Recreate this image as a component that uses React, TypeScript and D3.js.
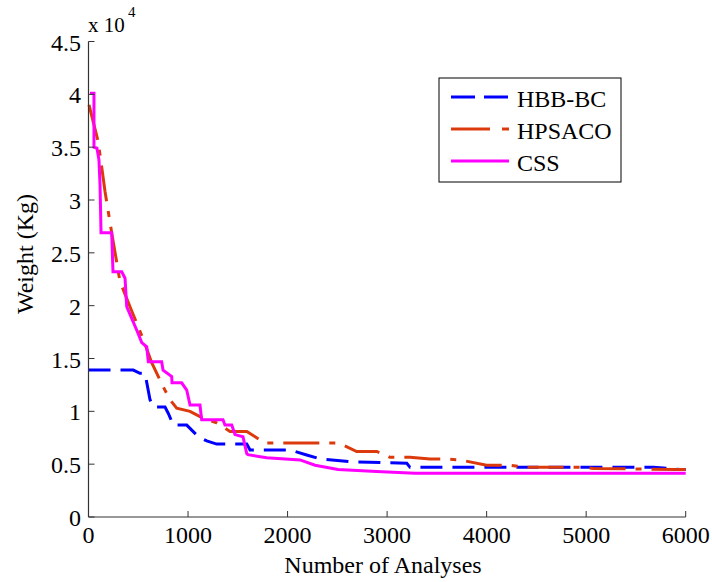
import React from 'react';
import * as d3 from 'd3';

// values, [analyses, weight]
const hbbbc: [number, number][] = [
	[0, 13900], [450, 13900], [517, 13600], [568, 13600], [618, 11100], [651, 10400], [769, 10400],
	[802, 9800], [852, 8700], [987, 8700], [1103, 7600], [1188, 7200], [1288, 6900], [1590, 6900],
	[1623, 6350], [2025, 6350], [2192, 5870], [2326, 5500], [2627, 5240], [3198, 5080], [3230, 4700],
	[5675, 4700], [5945, 4500], [6000, 4500]
];

const hpsaco: [number, number][] = [
	[5, 39000], [98, 35500], [166, 30800], [233, 26900], [316, 22300], [417, 19900], [551, 16800],
	[635, 14600], [752, 12300], [819, 11100], [886, 10300], [1020, 10000], [1120, 9500], [1288, 8900],
	[1422, 8100], [1590, 8100], [1773, 7000], [2494, 7000], [2560, 6800], [2695, 6200], [2896, 6200],
	[3029, 5650], [3230, 5650], [3431, 5500], [3565, 5500], [3733, 5400], [4000, 4900], [4235, 4900],
	[4403, 4700], [4938, 4700], [5072, 4600], [5910, 4500], [6000, 4500]
];

const css: [number, number][] = [
	[15, 40100], [55, 40100], [55, 35000], [85, 34900], [105, 33800], [116, 31400], [126, 26900],
	[233, 26900], [246, 23200], [334, 23200], [367, 22600], [384, 19900], [434, 18800], [484, 17700],
	[535, 16500], [585, 16100], [601, 14700], [735, 14700], [749, 13900], [836, 13300], [839, 12700],
	[936, 12700], [987, 12000], [1020, 10600], [1120, 10600], [1137, 9200], [1351, 9200], [1371, 8700],
	[1439, 8700], [1472, 7800], [1552, 7600], [1590, 6000], [1602, 5900], [1790, 5600], [2125, 5400],
	[2276, 4900], [2507, 4500], [2895, 4300], [3280, 4150], [6000, 4150]
];

const seriesNames = ['HBB-BC', 'HPSACO', 'CSS'];
const xTicks = [0, 1000, 2000, 3000, 4000, 5000, 6000];
const yTicks = [0, 0.5, 1, 1.5, 2, 2.5, 3, 3.5, 4, 4.5];

const FONT = 'Liberation Serif';

// small helper so every label carries its own font
const T = (p: any) => (
	<text fontFamily={FONT} fontSize={p.size || 24} fill="#000" style={{ fontFamily: FONT }} {...p} />
);

export default function App() {
	const x = d3.scaleLinear().domain([0, 6000]).range([88.5, 685.7]);
	const y = d3.scaleLinear().domain([0, 45000]).range([517, 41.5]);
	const line = d3.line<[number, number]>().x((d) => x(d[0])).y((d) => y(d[1]));

	const styles = [
		{ data: hbbbc, color: '#0000ff', dash: '22,10' },
		{ data: hpsaco, color: '#dc3a0c', dash: '36,10,6,10' },
		{ data: css, color: '#ff00ff', dash: null }
	];

	return (
		<div style={{ position: 'absolute', left: 0, top: 0, fontFamily: FONT }}>
			<svg width={712} height={582} style={{ display: 'block' }}>
				<rect width={712} height={582} fill="#fff" />

				{/* series */}
				{styles.map((s, i) => (
					<path key={i} d={line(s.data) || ''} fill="none" stroke={s.color} strokeWidth={3}
						strokeDasharray={s.dash || undefined} strokeLinejoin="miter" />
				))}

				{/* axes */}
				<line x1={x(0)} x2={x(0)} y1={y(45000)} y2={y(0)} stroke="#333" strokeWidth={1.2} />
				<line x1={x(0)} x2={x(6000)} y1={y(0)} y2={y(0)} stroke="#333" strokeWidth={1.2} />
				{yTicks.map((t) => (
					<g key={t}>
						<line x1={x(0)} x2={x(0) + 6} y1={y(t * 1e4)} y2={y(t * 1e4)} stroke="#333" />
						<T x={81} y={y(t * 1e4) + 9} textAnchor="end">{t}</T>
					</g>
				))}
				{xTicks.map((t) => (
					<g key={t}>
						<line x1={x(t)} x2={x(t)} y1={y(0)} y2={y(0) - 6} stroke="#333" />
						<T x={x(t)} y={543} textAnchor="middle">{t}</T>
					</g>
				))}

				<T x={88} y={32} fontSize={21}>x 10</T>
				<T x={128} y={17} fontSize={15}>4</T>

				<T x={383} y={573} textAnchor="middle">Number of Analyses</T>
				<T transform="translate(33,254) rotate(-90)" textAnchor="middle">Weight (Kg)</T>

				{/* legend */}
				<rect x={439} y={78} width={182} height={104} fill="#fff" stroke="#000" strokeWidth={1} />
				{styles.map((s, i) => (
					<g key={i} transform={`translate(0,${97 + i * 32})`}>
						<line x1={451} x2={509} y1={0} y2={0} stroke={s.color} strokeWidth={3}
							strokeDasharray={s.dash ? (i === 0 ? '24,9' : '39,12,7,9') : undefined} />
						<T x={517} y={10}>{seriesNames[i]}</T>
					</g>
				))}
			</svg>
		</div>
	);
}
